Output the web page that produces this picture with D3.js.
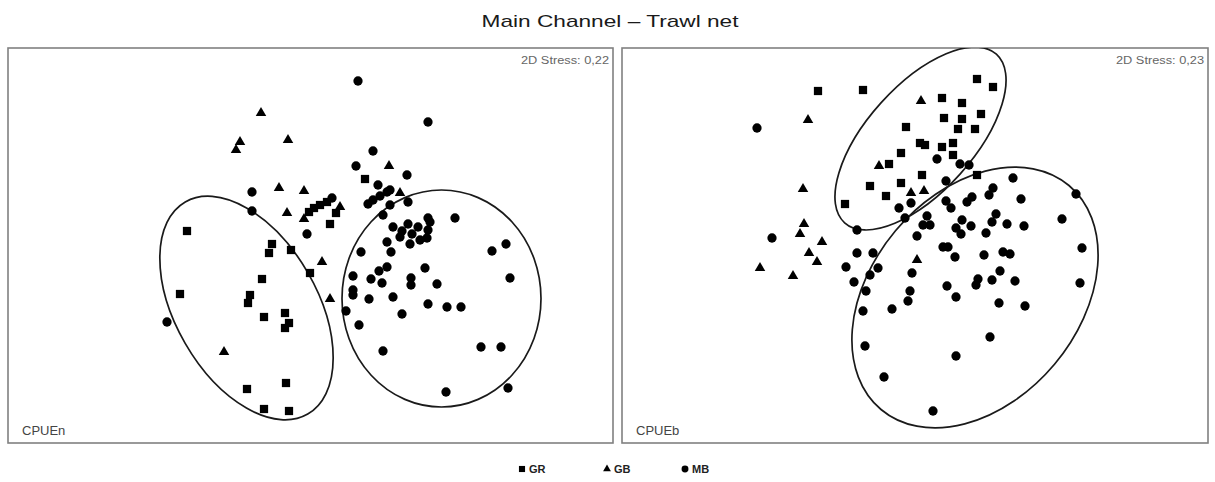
<!DOCTYPE html>
<html><head><meta charset="utf-8">
<script src="https://cdn.jsdelivr.net/npm/d3@7"></script>
<style>body{margin:0;background:#fff;font-family:"Liberation Sans",Arial,sans-serif}</style>
</head><body><svg id="c" width="1215" height="482"></svg>
<script>
// NMDS coordinates (arbitrary units)
const leftGR=[[187,231],[272,244],[269,253],[291,250],[310,273],[262,279],[180,294],[250,295],[248,303],[264,317],[285,313],[289,323],[285,328],[286,383],[247,389],[264,409],[289,411],[309,212],[314,208],[320,205],[327,202],[336,213],[330,224],[365,179]];
const leftGB=[[261,113],[240,142],[236,150],[288,140],[279,188],[304,191],[287,213],[304,219],[340,207],[322,262],[330,299],[224,352],[389,166],[400,193]];
const leftMB=[[252,192],[252,211],[307,234],[332,198],[167,322],[358,81],[428,122],[373,151],[356,166],[407,175],[378,185],[368,204],[373,200],[380,196],[387,192],[390,190],[408,202],[390,205],[383,215],[455,218],[428,218],[393,227],[408,224],[418,227],[428,230],[430,222],[412,234],[400,237],[387,242],[410,244],[420,240],[427,238],[402,231],[361,252],[391,252],[492,251],[506,244],[387,267],[379,271],[425,268],[353,276],[371,279],[382,283],[411,278],[411,285],[437,284],[510,278],[353,290],[353,295],[369,299],[393,297],[428,304],[447,307],[461,307],[346,311],[402,314],[359,325],[383,351],[481,347],[501,347],[446,392],[508,388]];
const rightGR=[[818,91],[863,90],[977,79],[993,87],[942,98],[962,103],[944,118],[962,119],[981,114],[975,129],[958,129],[906,127],[920,143],[925,145],[942,147],[953,143],[953,155],[901,153],[889,164],[922,175],[901,183],[870,186],[886,196],[845,204],[977,175]];
const rightGB=[[808,120],[921,101],[879,166],[924,191],[911,193],[803,189],[804,224],[800,234],[822,242],[809,253],[817,262],[760,268],[793,276],[917,260]];
const rightMB=[[757,128],[772,238],[937,159],[960,164],[969,165],[946,181],[911,203],[899,208],[857,230],[927,216],[923,225],[930,225],[917,236],[1013,178],[1076,194],[993,188],[989,195],[1021,199],[946,201],[951,208],[972,197],[967,202],[905,218],[996,214],[992,222],[962,220],[971,226],[956,228],[961,234],[1007,224],[1024,226],[1062,219],[986,233],[943,247],[948,247],[955,257],[984,255],[1003,252],[1010,254],[1082,248],[857,253],[873,253],[846,267],[878,268],[870,275],[912,273],[854,282],[866,291],[910,291],[908,301],[863,311],[892,309],[1000,271],[978,279],[976,285],[992,280],[1015,281],[947,286],[1080,283],[956,297],[999,303],[1025,306],[990,337],[865,346],[956,356],[884,377],[933,411]];
// group ellipses: centre x, centre y, semi-axis a, semi-axis b, angle (deg)
const leftEllipses=[[246.5,308,122.5,70.8,60],[441.5,298.5,99.5,108.5,0]];
const rightEllipses=[[920.5,138.5,113.4,53.2,-48],[975,297.5,146.2,103.8,-50]];
const panelNames=["CPUEn","CPUEb"];
const stressLabels=["2D Stress: 0,22","2D Stress: 0,23"];
const groups=["GR","GB","MB"];
const title="Main Channel – Trawl net";

const svg=d3.select("#c");
svg.append("text").attr("x",610).attr("y",27).attr("text-anchor","middle")
  .attr("font-size",17).attr("fill","#1a1a1a").attr("textLength",257).attr("lengthAdjust","spacingAndGlyphs").text(title);

const panels=[
 {box:[8,48,613,443],GR:leftGR,GB:leftGB,MB:leftMB,ell:leftEllipses},
 {box:[622,48,1208,443],GR:rightGR,GB:rightGB,MB:rightMB,ell:rightEllipses}
];
const symType={GR:d3.symbolSquare,GB:d3.symbolTriangle,MB:d3.symbolCircle};
const symSize={GR:68,GB:48,MB:68};

panels.forEach((p,i)=>{
  const [x0,y0,x1,y1]=p.box;
  const x=d3.scaleLinear().domain([x0,x1]).range([x0,x1]);
  const y=d3.scaleLinear().domain([y0,y1]).range([y0,y1]);
  const g=svg.append("g");
  g.append("rect").attr("x",x0).attr("y",y0).attr("width",x1-x0).attr("height",y1-y0)
    .attr("fill","none").attr("stroke","#808080").attr("stroke-width",1.6);
  const clip="clip"+i;
  svg.append("clipPath").attr("id",clip).append("rect").attr("x",x0).attr("y",y0).attr("width",x1-x0).attr("height",y1-y0);
  const inner=g.append("g").attr("clip-path",`url(#${clip})`);
  inner.selectAll("ellipse").data(p.ell).join("ellipse")
    .attr("transform",d=>`translate(${x(d[0])},${y(d[1])}) rotate(${d[4]})`)
    .attr("rx",d=>x(d[0]+d[2])-x(d[0])).attr("ry",d=>y(d[1]+d[3])-y(d[1]))
    .attr("fill","none").attr("stroke","#1a1a1a").attr("stroke-width",1.7);
  groups.forEach(k=>{
    inner.selectAll("path."+k).data(p[k]).join("path").attr("class",k)
      .attr("transform",d=>`translate(${x(d[0])},${y(d[1])})`)
      .attr("d",d3.symbol().type(symType[k]).size(symSize[k])())
      .attr("fill","#000");
  });
  g.append("text").attr("x",x1-92).attr("y",y0+16)
    .attr("font-size",10).attr("fill","#666").attr("textLength",88).attr("lengthAdjust","spacingAndGlyphs").text(stressLabels[i]);
  g.append("text").attr("x",x0+14).attr("y",y1-8)
    .attr("font-size",13).attr("fill","#444").text(panelNames[i]);
});

// legend
const leg=svg.append("g");
const legX=[522,607,685];
groups.forEach((k,i)=>{
  leg.append("path").attr("transform",`translate(${legX[i]},${469})`)
    .attr("d",d3.symbol().type(symType[k]).size(symSize[k]*0.55)()).attr("fill","#000");
  leg.append("text").attr("x",legX[i]+7).attr("y",473).attr("font-size",11)
    .attr("font-weight","bold").attr("fill","#222").text(k);
});
</script></body></html>
